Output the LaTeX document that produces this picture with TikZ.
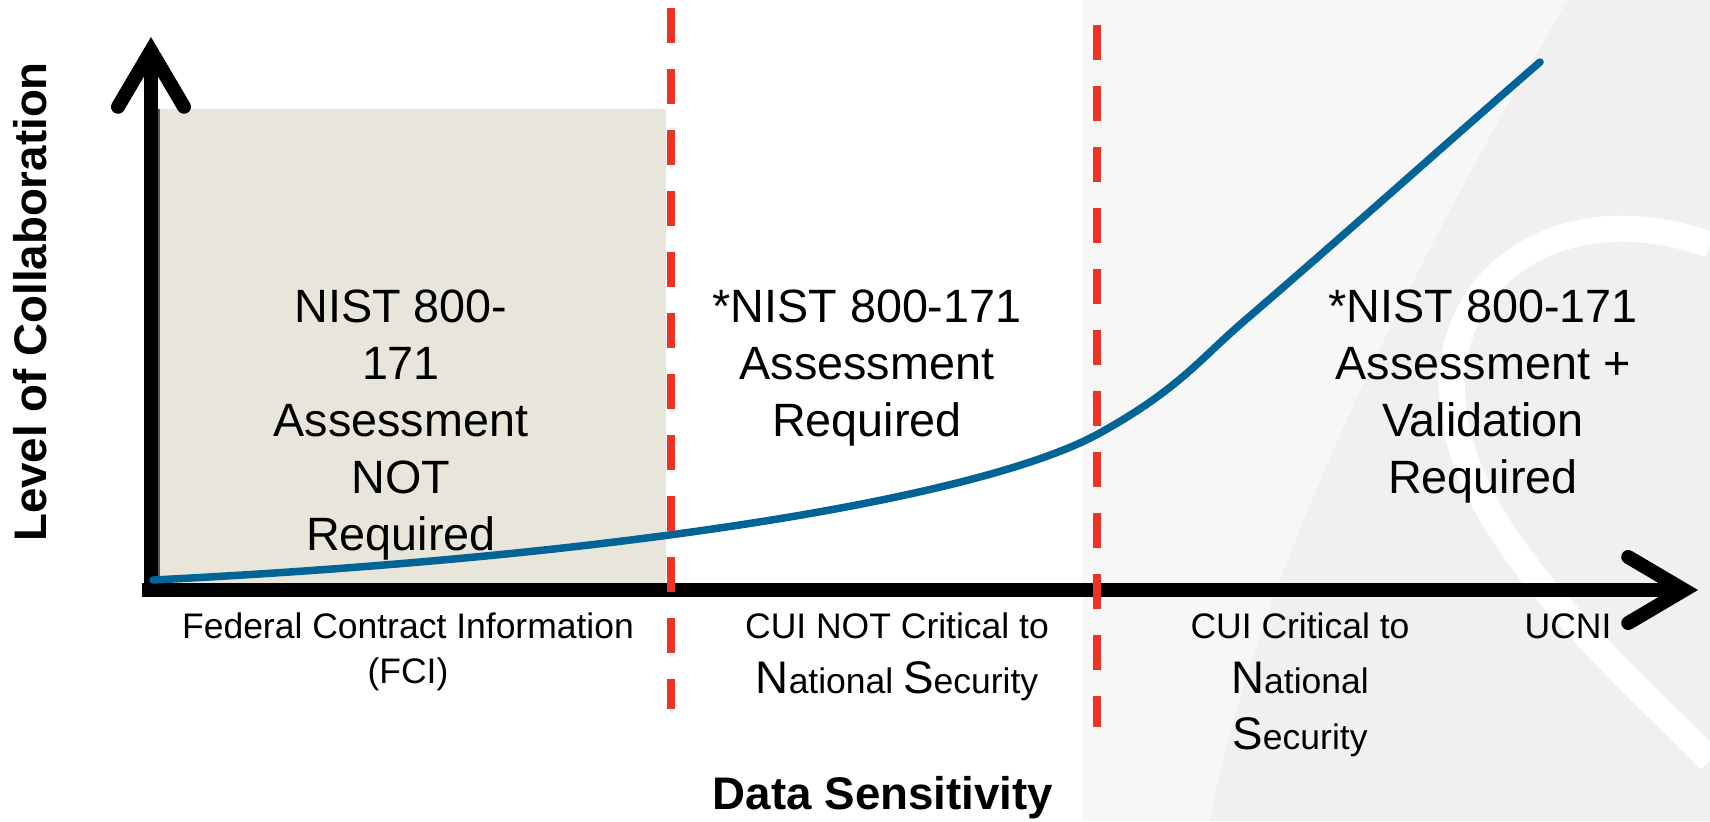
\documentclass[tikz,border=0pt]{standalone}
\usepackage{fontspec}
\setmainfont{Liberation Sans}
\usetikzlibrary{arrows.meta, positioning}

\definecolor{beige}{RGB}{232,230,219}
\definecolor{curveblue}{RGB}{0,100,150}
\definecolor{dashred}{RGB}{238,50,36}
\definecolor{markA}{RGB}{247,247,247}
\definecolor{markB}{RGB}{240,240,240}

% big first letter in the bottom labels
\newcommand{\capletter}[1]{{\fontsize{13}{13}\selectfont #1}}

\begin{document}
\begin{tikzpicture}[
    x=0.1mm, y=-0.1mm,
    axis/.style={line width=1.4mm, black, -{Straight Barb[length=5.6mm, width=6.6mm, line cap=round, line join=miter]}},
    divider/.style={line width=0.75mm, dashred, dash pattern=on 3.5mm off 2.6mm},
    growth/.style={line width=0.75mm, curveblue, line cap=round},
    zonetext/.style={anchor=north, inner sep=0pt, align=center, font=\fontsize{13.3}{16.2}\selectfont},
    ticklabel/.style={anchor=north, inner sep=0pt, align=center, font=\fontsize{10.1}{12.8}\selectfont},
    bigticklabel/.style={ticklabel, font=\fontsize{10.1}{15.8}\selectfont},
    axistitle/.style={inner sep=0pt, font=\fontsize{13}{15}\selectfont\bfseries}
]
\useasboundingbox (0,0) rectangle (1710,821);

% Watermark in the background
\fill[markA] (1082,0) rectangle (1710,821);
\fill[markB] (1568,0) .. controls (1450,200) and (1260,550) .. (1210,821) -- (1710,821) -- (1710,0) -- cycle;
\draw[white, line width=2.6mm] (1710,245) .. controls (1560,190) and (1430,280) .. (1455,420) .. controls (1475,540) and (1600,650) .. (1710,760);

% FCI zone
\fill[beige] (158,109) rectangle (666,583);
\draw[gray!70!black, line width=0.3mm] (158,109) -- (158,583);

% Axes
\coordinate (origin) at (151,590);
\coordinate (ytip) at (151,37);
\coordinate (xtip) at (1698,590);
\draw[axis] (151,597) -- (ytip);
\draw[axis] (142,590) -- (xtip);

% Level of collaboration curve
\coordinate (c0) at (153,580);
\coordinate (c1) at (1098,434);
\coordinate (c2) at (1243,322);
\coordinate (c3) at (1540,62);
\draw[growth] (c0) .. controls (650,555) and (988,494) .. (c1)
    .. controls (1178,390) and (1200,359) .. (c2)
    .. controls (1350,230) and (1450,140) .. (c3);

% Zone text
\node[zonetext] (nist1) at (401,289) {NIST 800-\\171\\Assessment\\NOT\\Required};
\node[zonetext] (nist2) at (867,289) {*NIST 800-171\\Assessment\\Required};
\node[zonetext] (nist3) at (1483,289) {*NIST 800-171\\Assessment +\\Validation\\Required};

% Labels under the x axis
\node[ticklabel] (fci) at (408,612) {Federal Contract Information\\(FCI)};
\node[bigticklabel] (cuinc) at (897,612) {CUI NOT Critical to\\\capletter{N}ational \capletter{S}ecurity};
\node[bigticklabel] (cuic) at (1300,612) {CUI Critical to\\\capletter{N}ational\\\capletter{S}ecurity};
\node[ticklabel] (ucni) at (1568,613) {UCNI};

% Axis titles
\node[axistitle, anchor=north] (xtitle) at (883,776) {Data Sensitivity};
\node[axistitle, rotate=90] (ytitle) at (30,302) {Level of Collaboration};

% Dividers
\draw[divider] (671,8) -- (671,709);
\draw[divider] (1097,25) -- (1097,727);

\end{tikzpicture}
\end{document}
